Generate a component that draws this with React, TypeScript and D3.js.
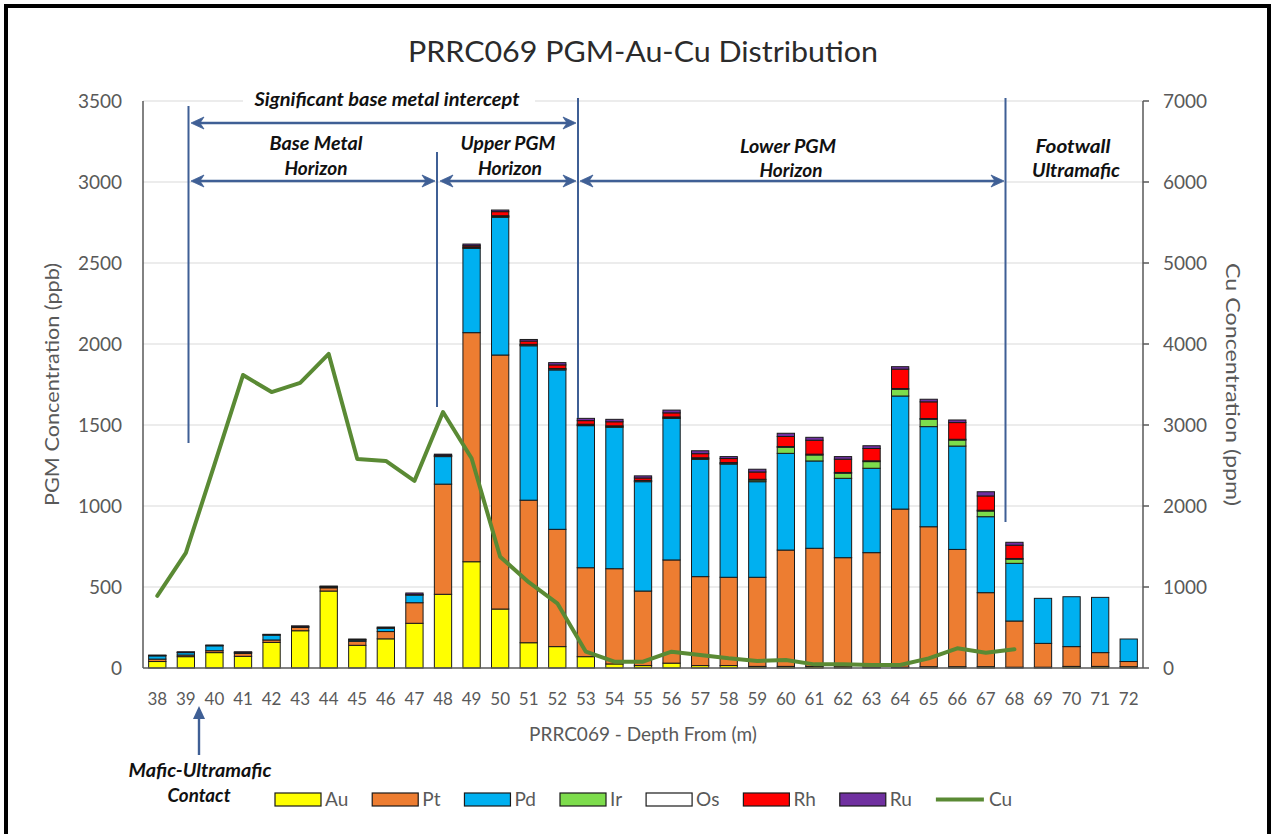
import React, { useEffect, useRef } from 'react';
import * as d3 from 'd3';

// ---------------- DATA ----------------
const depths = [38, 39, 40, 41, 42, 43, 44, 45, 46, 47, 48, 49, 50, 51, 52, 53, 54, 55, 56, 57, 58, 59, 60, 61, 62, 63, 64, 65, 66, 67, 68, 69, 70, 71, 72];
const au = [40, 70, 95, 72, 158, 230, 475, 140, 180, 276, 455, 656, 364, 156, 132, 70, 25, 15, 30, 15, 15, 10, 10, 10, 8, 5, 5, 8, 8, 8, 5, 5, 10, 10, 8];
const pt = [15, 10, 12, 18, 15, 20, 20, 25, 45, 127, 680, 1414, 1568, 880, 724, 549, 588, 460, 637, 549, 545, 550, 718, 729, 673, 707, 976, 864, 724, 457, 285, 147, 122, 85, 32];
const pd = [20, 15, 30, 5, 30, 5, 5, 8, 20, 47, 170, 521, 850, 953, 984, 877, 873, 675, 874, 724, 699, 590, 597, 539, 490, 521, 698, 618, 638, 469, 356, 278, 308, 341, 139];
const ir = [0, 0, 0, 0, 0, 0, 0, 0, 0, 0, 2, 3, 5, 4, 4, 4, 4, 3, 4, 5, 4, 10, 37, 37, 31, 41, 41, 45, 37, 35, 25, 0, 0, 0, 0];
const os = [2, 2, 2, 2, 2, 2, 2, 2, 2, 3, 3, 5, 5, 5, 5, 5, 5, 5, 5, 5, 5, 5, 5, 5, 5, 5, 5, 5, 5, 5, 5, 0, 0, 0, 0];
const rh = [0, 0, 0, 0, 0, 0, 0, 0, 0, 0, 3, 8, 25, 20, 22, 22, 25, 15, 25, 25, 25, 45, 62, 86, 82, 76, 120, 103, 103, 88, 82, 0, 0, 0, 0];
const ru = [3, 3, 3, 3, 3, 3, 4, 4, 6, 10, 7, 10, 10, 10, 14, 14, 15, 13, 17, 18, 12, 17, 20, 18, 16, 17, 15, 16, 16, 26, 18, 0, 0, 0, 0];
// Cu (ppm) from depth 38 to 68
const cu = [890, 1420, 2510, 3617, 3407, 3519, 3877, 2580, 2556, 2309, 3160, 2589, 1374, 1060, 799, 201, 78, 78, 201, 160, 119, 86, 99, 45, 45, 37, 37, 119, 243, 189, 231];

const seriesNames = ['Au', 'Pt', 'Pd', 'Ir', 'Os', 'Rh', 'Ru'];
const seriesValues = [au, pt, pd, ir, os, rh, ru];
const seriesColors = ['#ffff00', '#ed7d31', '#00b0f0', '#7ddc4c', '#ffffff', '#ff0000', '#7030a0'];
const cuColor = '#5a8a34';
const leftTicks = [0, 500, 1000, 1500, 2000, 2500, 3000, 3500];
const rightTicks = [0, 1000, 2000, 3000, 4000, 5000, 6000, 7000];

const FONT = "Lato, 'Open Sans', sans-serif";
const ANNO = '#3f5f95';

export default function App() {
  const ref = useRef<SVGSVGElement>(null);

  useEffect(() => {
    const svg = d3.select(ref.current);
    svg.selectAll('*').remove();
    const W = 1276, H = 834;
    const L = 143, R = 1143, T = 101, B = 668;

    svg.append('rect').attr('width', W).attr('height', H).attr('fill', '#fff');

    const x = d3.scaleBand<string>()
      .domain(depths.map(String))
      .range([L, R])
      .paddingInner(0.395)
      .paddingOuter(0.1975);
    const yL = d3.scaleLinear().domain([0, 3500]).range([B, T]);
    const yR = d3.scaleLinear().domain([0, 7000]).range([B, T]);

    // gridlines
    svg.append('g').selectAll('line').data(leftTicks.slice(1)).join('line')
      .attr('x1', L).attr('x2', R)
      .attr('y1', d => yL(d)).attr('y2', d => yL(d))
      .attr('stroke', '#d9d9d9').attr('stroke-width', 1);

    // stacked bars
    const rows = depths.map((d, i) => {
      const r: any = { depth: String(d) };
      seriesNames.forEach((s, k) => { r[s] = seriesValues[k][i]; });
      return r;
    });
    const stacked = d3.stack<any>().keys(seriesNames)(rows);
    const gb = svg.append('g');
    stacked.forEach((layer, k) => {
      gb.append('g').selectAll('rect').data(layer.filter(p => p[1] - p[0] > 0)).join('rect')
        .attr('x', p => x(p.data.depth)!)
        .attr('width', x.bandwidth())
        .attr('y', p => yL(p[1]))
        .attr('height', p => yL(p[0]) - yL(p[1]))
        .attr('fill', seriesColors[k])
        .attr('stroke', '#1a1a1a')
        .attr('stroke-width', 1);
    });

    // Cu line
    const line = d3.line<number>()
      .x((_, i) => x(String(depths[i]))! + x.bandwidth() / 2)
      .y(d => yR(d));
    svg.append('path').datum(cu).attr('d', line)
      .attr('fill', 'none').attr('stroke', cuColor).attr('stroke-width', 4)
      .attr('stroke-linejoin', 'round').attr('stroke-linecap', 'round');

    // axes lines
    svg.append('line').attr('x1', L).attr('x2', L).attr('y1', T).attr('y2', B).attr('stroke', '#595959').attr('stroke-width', 1.5);
    svg.append('line').attr('x1', R).attr('x2', R).attr('y1', T).attr('y2', B).attr('stroke', '#595959').attr('stroke-width', 1.5);
    svg.append('line').attr('x1', L).attr('x2', R).attr('y1', B).attr('y2', B).attr('stroke', '#595959').attr('stroke-width', 1.5);
    svg.append('g').selectAll('line').data(rightTicks).join('line')
      .attr('x1', R).attr('x2', R + 6).attr('y1', d => yR(d)).attr('y2', d => yR(d))
      .attr('stroke', '#595959').attr('stroke-width', 1.5);

    // tick labels
    svg.append('g').selectAll('text').data(leftTicks).join('text')
      .attr('x', 122).attr('y', d => yL(d)).attr('dy', '0.36em')
      .attr('text-anchor', 'end').attr('font-family', FONT).attr('font-size', 19).attr('fill', '#595959')
      .text(d => String(d));
    svg.append('g').selectAll('text').data(rightTicks).join('text')
      .attr('x', 1163).attr('y', d => yR(d)).attr('dy', '0.36em')
      .attr('text-anchor', 'start').attr('font-family', FONT).attr('font-size', 19).attr('fill', '#595959')
      .text(d => String(d));
    svg.append('g').selectAll('text').data(depths).join('text')
      .attr('x', d => x(String(d))! + x.bandwidth() / 2).attr('y', 705)
      .attr('text-anchor', 'middle').attr('font-family', FONT).attr('font-size', 17).attr('fill', '#595959')
      .text(d => String(d));

    // axis titles
    svg.append('text').attr('transform', `translate(59,${(T + B) / 2}) rotate(-90)`)
      .attr('text-anchor', 'middle').attr('font-family', FONT).attr('font-size', 20).attr('fill', '#595959')
      .attr('textLength', 243).attr('lengthAdjust', 'spacingAndGlyphs')
      .text('PGM Concentration (ppb)');
    svg.append('text').attr('transform', `translate(1226,${(T + B) / 2}) rotate(90)`)
      .attr('text-anchor', 'middle').attr('font-family', FONT).attr('font-size', 20).attr('fill', '#595959')
      .attr('textLength', 243).attr('lengthAdjust', 'spacingAndGlyphs')
      .text('Cu Concentration (ppm)');
    svg.append('text').attr('x', (L + R) / 2).attr('y', 741)
      .attr('text-anchor', 'middle').attr('font-family', FONT).attr('font-size', 19).attr('fill', '#595959')
      .text('PRRC069 - Depth From (m)');

    // title
    svg.append('text').attr('x', (L + R) / 2).attr('y', 62)
      .attr('text-anchor', 'middle').attr('font-family', FONT).attr('font-size', 29).attr('fill', '#2b2b2b')
      .attr('textLength', 470).attr('lengthAdjust', 'spacingAndGlyphs')
      .text('PRRC069 PGM-Au-Cu Distribution');

    // ---------- annotations ----------
    const ga = svg.append('g');
    const vline = (xx: number, y1: number, y2: number) =>
      ga.append('line').attr('x1', xx).attr('x2', xx).attr('y1', y1).attr('y2', y2)
        .attr('stroke', ANNO).attr('stroke-width', 2);
    vline(188.5, 106, 443);
    vline(437, 152, 407);
    vline(578, 98, 418);
    vline(1005.5, 98, 522);

    const head = (tx: number, ty: number, dir: number) => {
      const b = tx - dir * 13, n = tx - dir * 9;
      ga.append('path')
        .attr('d', `M${tx},${ty} L${b},${ty - 6} L${n},${ty} L${b},${ty + 6} Z`)
        .attr('fill', ANNO).attr('stroke', ANNO).attr('stroke-width', 0.8).attr('stroke-linejoin', 'round');
    };
    const harrow = (x1: number, x2: number, yy: number) => {
      ga.append('line').attr('x1', x1 + 8).attr('x2', x2 - 8).attr('y1', yy).attr('y2', yy)
        .attr('stroke', ANNO).attr('stroke-width', 2.6);
      head(x1, yy, -1);
      head(x2, yy, 1);
    };
    harrow(191, 576, 123);
    harrow(191, 435, 181);
    harrow(440, 576, 181);
    harrow(580, 1004, 181);

    // white box behind the top label (breaks the top gridline)
    ga.append('rect').attr('x', 243).attr('y', 90).attr('width', 292).attr('height', 21).attr('fill', '#fff');
    const atext = (tx: number, ty: number, s: string, len: number) => {
      ga.append('text').attr('x', tx).attr('y', ty).attr('text-anchor', 'middle')
        .attr('font-family', FONT).attr('font-size', 18).attr('font-weight', 700).attr('font-style', 'italic')
        .attr('fill', '#111')
        .attr('textLength', len).attr('lengthAdjust', 'spacingAndGlyphs')
        .text(s);
    };
    atext(387, 106, 'Significant base metal intercept', 265);
    atext(316, 150, 'Base Metal', 93);
    atext(316, 175, 'Horizon', 63);
    atext(508, 150, 'Upper PGM', 95);
    atext(510, 175, 'Horizon', 64);
    atext(788, 153, 'Lower PGM', 96);
    atext(791, 177, 'Horizon', 63);
    atext(1073, 153, 'Footwall', 75);
    atext(1076, 177, 'Ultramafic', 88);
    atext(200, 777, 'Mafic-Ultramafic', 143);
    atext(199, 802, 'Contact', 63);

    // mafic-ultramafic contact arrow
    ga.append('line').attr('x1', 199).attr('x2', 199).attr('y1', 755).attr('y2', 714)
      .attr('stroke', ANNO).attr('stroke-width', 2.4);
    ga.append('path').attr('d', 'M199,706 L193,719 L205,719 Z').attr('fill', ANNO);

    // ---------- legend ----------
    const gl = svg.append('g');
    let lx = 275;
    const ly = 793;
    seriesNames.forEach((s, k) => {
      gl.append('rect').attr('x', lx).attr('y', ly).attr('width', 46).attr('height', 13)
        .attr('fill', seriesColors[k]).attr('stroke', '#1a1a1a').attr('stroke-width', 1.2);
      const t = gl.append('text').attr('x', lx + 50).attr('y', ly + 13)
        .attr('font-family', FONT).attr('font-size', 19).attr('fill', '#595959').text(s);
      const w = (t.node() as SVGTextElement).getComputedTextLength();
      lx += 50 + w + 24;
    });
    gl.append('line').attr('x1', lx).attr('x2', lx + 48).attr('y1', ly + 6.5).attr('y2', ly + 6.5)
      .attr('stroke', cuColor).attr('stroke-width', 4);
    gl.append('text').attr('x', lx + 53).attr('y', ly + 13)
      .attr('font-family', FONT).attr('font-size', 19).attr('fill', '#595959').text('Cu');

    // outer frame
    svg.append('path').attr('d', `M6,${H + 10} L6,6 L1269,6 L1269,${H + 10}`)
      .attr('fill', 'none').attr('stroke', '#000').attr('stroke-width', 4);
  }, []);

  return (
    <svg ref={ref} width={1276} height={834}
      style={{ position: 'absolute', left: 0, top: 0, display: 'block' }} />
  );
}
